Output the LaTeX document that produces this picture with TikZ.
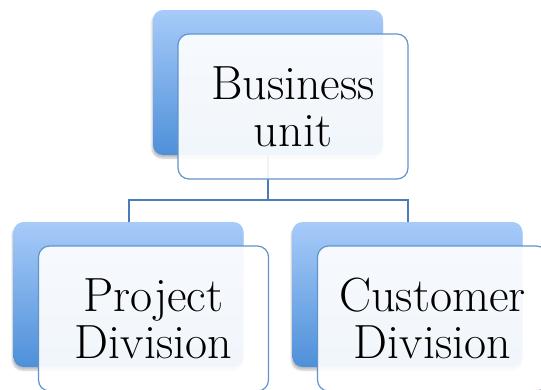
\documentclass[tikz,border=0pt]{standalone}
\usepackage{fontspec}
\usetikzlibrary{shadows.blur}
\definecolor{backtop}{RGB}{167,203,249}
\definecolor{backbot}{RGB}{78,144,217}
\definecolor{frontedge}{RGB}{98,148,204}
\definecolor{linkcol}{RGB}{74,124,184}
\tikzset{
  backbox/.style={rectangle, rounded corners=10pt, minimum width=230pt, minimum height=145pt,
    inner sep=0pt, top color=backtop, bottom color=backbot,
    blur shadow={shadow xshift=-1pt, shadow yshift=-3pt, shadow opacity=25, shadow blur steps=6}},
  frontbox/.style={rectangle, rounded corners=11pt, minimum width=230pt, minimum height=145pt,
    inner sep=0pt, draw=frontedge, line width=1.2pt, fill=white, fill opacity=0.92,
    text opacity=1, align=center, font=\fontsize{48}{47}\selectfont, xshift=25pt, yshift=-24pt},
  link/.style={draw=linkcol, line width=2pt}
}
\begin{document}
\begin{tikzpicture}[x=1pt, y=-1pt]
    \useasboundingbox (0,0) rectangle (541,389);
    \clip (0,0) rectangle (541,389);
    % back cards
    \node[backbox] (bu-back) at (268,82.5) {};
    \node[backbox] (pd-back) at (128.5,294.5) {};
    \node[backbox] (cd-back) at (407.5,294.5) {};
    % connectors
    \coordinate (split) at (268,200);
    \draw[link] (bu-back.south) -- (split) -| (pd-back.north);
    \draw[link] (split) -| (cd-back.north);
    % front cards
    \node[frontbox] (bu) at (bu-back) {Business\\unit};
    \node[frontbox] (pd) at (pd-back) {Project\\Division};
    \node[frontbox] (cd) at (cd-back) {Customer\\Division};
\end{tikzpicture}
\end{document}
